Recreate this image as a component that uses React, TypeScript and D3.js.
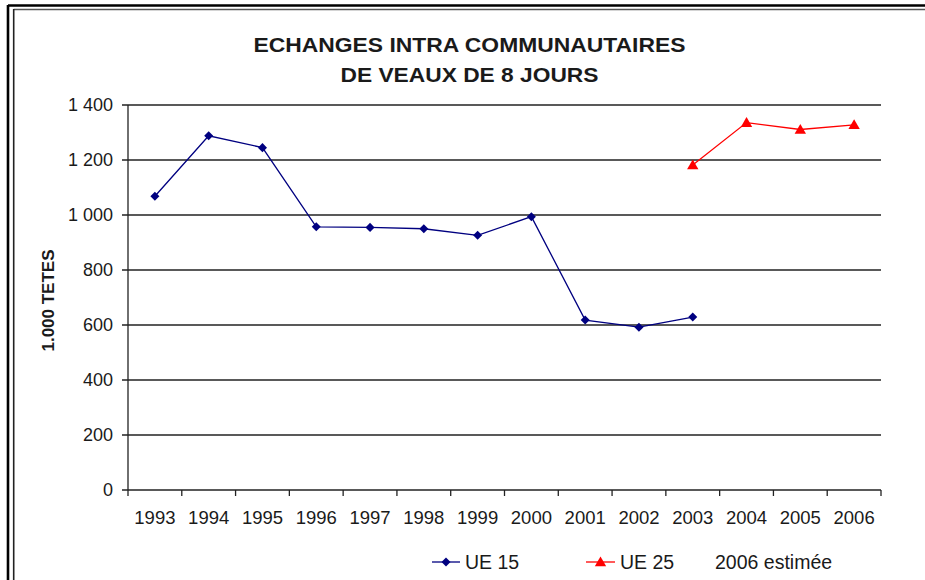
import React from "react";
import * as d3 from "d3";

const years = ["1993","1994","1995","1996","1997","1998","1999","2000","2001","2002","2003","2004","2005","2006"];
const ue15Years = ["1993","1994","1995","1996","1997","1998","1999","2000","2001","2002","2003"];
const ue15Values = [1068, 1288, 1245, 957, 955, 950, 926, 994, 618, 592, 629];
const ue25Years = ["2003","2004","2005","2006"];
const ue25Values = [1182, 1336, 1311, 1328];
const yTicks = [0, 200, 400, 600, 800, 1000, 1200, 1400];
const titleLines = ["ECHANGES INTRA COMMUNAUTAIRES", "DE VEAUX DE 8 JOURS"];
const yTitle = "1.000 TETES";
const legendItems = ["UE 15", "UE 25", "2006 estimée"];

const W = 925, H = 580;
const left = 128, right = 881, top = 105, bottom = 490;
const FONT = "'Liberation Sans', Arial, sans-serif";

export default function App() {
  const x = d3.scaleBand<string>().domain(years).range([left, right]).padding(0);
  const y = d3.scaleLinear().domain([0, 1400]).range([bottom, top]);
  const cx = (yr: string) => (x(yr) as number) + x.bandwidth() / 2;
  const line = d3.line<[string, number]>().x(d => cx(d[0])).y(d => y(d[1]));
  const ue15 = ue15Years.map((yr, i) => [yr, ue15Values[i]] as [string, number]);
  const ue25 = ue25Years.map((yr, i) => [yr, ue25Values[i]] as [string, number]);
  const diamond = d3.symbol(d3.symbolDiamond2, 52)();
  const tri = d3.symbol(d3.symbolTriangle, 56)();
  const ink = "#1a1a1a";
  const boundaries = years.map(yr => x(yr) as number).concat([right]);
  const fmt = (v: number) => d3.format(",")(v).replace(",", " ");

  return (
    <svg width={W} height={H} style={{ position: "absolute", left: 0, top: 0, background: "#fff" }}>
      <rect x={0} y={0} width={W} height={H} fill="#fff" />
      {/* frame */}
      <line x1={8} y1={5.5} x2={W} y2={5.5} stroke="#000" strokeWidth={2.6} />
      <line x1={8} y1={5} x2={8} y2={H} stroke="#000" strokeWidth={2.6} />
      <line x1={13.7} y1={9.5} x2={W} y2={9.5} stroke="#555" strokeWidth={1.6} />
      <line x1={13.7} y1={9} x2={13.7} y2={H} stroke="#222" strokeWidth={1.6} />

      {/* title */}
      {titleLines.map((t, i) => (
        <text key={i} x={469.5} y={52 + i * 30} textAnchor="middle" fontFamily={FONT} fontWeight="bold" fontSize={21}
          textLength={i === 0 ? 432 : 258} lengthAdjust="spacingAndGlyphs" fill={ink}>{t}</text>
      ))}

      {/* gridlines */}
      {yTicks.map(v => (
        <g key={v}>
          <line x1={left - 6} x2={right} y1={y(v)} y2={y(v)} stroke="#222" strokeWidth={1.3} />
          <text x={113} y={y(v)} dy="0.36em" textAnchor="end" fontFamily={FONT} fontSize={18} fill={ink}>{fmt(v)}</text>
        </g>
      ))}
      {/* axes */}
      <line x1={left} x2={left} y1={top} y2={bottom} stroke="#222" strokeWidth={1.3} />
      {boundaries.map((b, i) => (
        <line key={i} x1={b} x2={b} y1={bottom} y2={bottom + 6} stroke="#222" strokeWidth={1.3} />
      ))}
      {years.map(yr => (
        <text key={yr} x={cx(yr)} y={524} textAnchor="middle" fontFamily={FONT} fontSize={18.5} fill={ink}>{yr}</text>
      ))}

      {/* y title */}
      <text transform={`translate(54,${(top + bottom) / 2 + 3}) rotate(-90)`} textAnchor="middle" fontFamily={FONT} fontWeight="bold" fontSize={17} fill={ink}>{yTitle}</text>

      {/* series */}
      <path d={line(ue15) || ""} fill="none" stroke="#000080" strokeWidth={1.3} />
      {ue15.map(d => <path key={d[0]} d={diamond || ""} transform={`translate(${cx(d[0])},${y(d[1])})`} fill="#000080" />)}
      <path d={line(ue25) || ""} fill="none" stroke="#ff0000" strokeWidth={1.3} />
      {ue25.map(d => <path key={d[0]} d={tri || ""} transform={`translate(${cx(d[0])},${y(d[1]) + 1})`} fill="#ff0000" />)}

      {/* legend */}
      <line x1={432} x2={460} y1={562} y2={562} stroke="#000080" strokeWidth={1.3} />
      <path d={diamond || ""} transform="translate(446,562)" fill="#000080" />
      <text x={465} y={562} dy="0.36em" fontFamily={FONT} fontSize={19.5} fill={ink}>{legendItems[0]}</text>
      <line x1={586} x2={615} y1={562} y2={562} stroke="#ff0000" strokeWidth={1.3} />
      <path d={tri || ""} transform="translate(600.5,563)" fill="#ff0000" />
      <text x={620} y={562} dy="0.36em" fontFamily={FONT} fontSize={19.5} fill={ink}>{legendItems[1]}</text>
      <text x={715} y={562} dy="0.36em" fontFamily={FONT} fontSize={19.5} fill={ink}>{legendItems[2]}</text>
    </svg>
  );
}
